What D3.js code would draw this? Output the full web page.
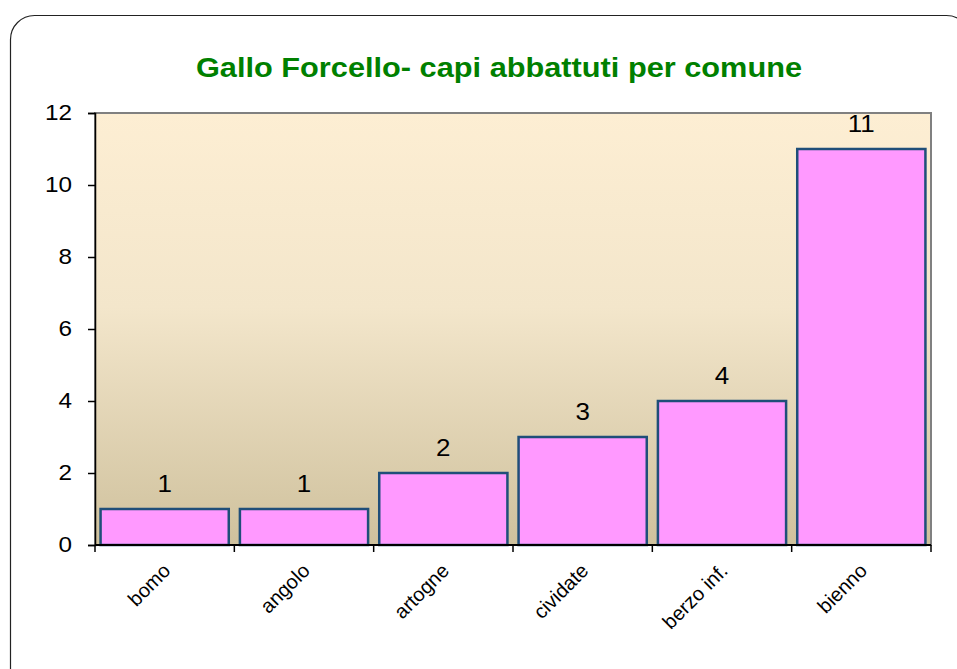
<!DOCTYPE html>
<html>
<head>
<meta charset="utf-8">
<script src="https://cdn.jsdelivr.net/npm/d3@7"></script>
<style>
  body { margin: 0; background: #fff; }
  svg text { font-family: "Liberation Sans", Arial, sans-serif; }
</style>
</head>
<body>
<div id="chart"></div>
<script>
const comuni = ["bomo", "angolo", "artogne", "cividate", "berzo inf.", "bienno"];
const capi = [1, 1, 2, 3, 4, 11];
const yTicks = [0, 2, 4, 6, 8, 10, 12];
const title = "Gallo Forcello- capi abbattuti per comune";

const W = 957, H = 669;
const margin = {top: 113, right: 26, bottom: 124, left: 95};
const width = W - margin.left - margin.right;
const height = H - margin.top - margin.bottom;
const stretch = 1.13; // the original text is a bit wide

const svg = d3.select("#chart").append("svg")
    .attr("width", W)
    .attr("height", H);

// outer frame with rounded corners
svg.append("rect")
    .attr("x", 10.5).attr("y", 15.5)
    .attr("width", 960).attr("height", 700)
    .attr("rx", 24).attr("ry", 24)
    .attr("fill", "none")
    .attr("stroke", "#222")
    .attr("stroke-width", 1.2);

// background gradient
const grad = svg.append("defs").append("linearGradient")
    .attr("id", "bg").attr("x1", 0).attr("y1", 0).attr("x2", 0).attr("y2", 1);
grad.append("stop").attr("offset", "0%").attr("stop-color", "#fdeed3");
grad.append("stop").attr("offset", "45%").attr("stop-color", "#f3e6cb");
grad.append("stop").attr("offset", "100%").attr("stop-color", "#cfc19d");

svg.append("text")
    .attr("transform", `translate(499,77) scale(${stretch},1)`)
    .attr("text-anchor", "middle")
    .attr("font-size", 27.2)
    .attr("font-weight", "bold")
    .attr("fill", "#008000")
    .text(title);

const g = svg.append("g")
    .attr("transform", `translate(${margin.left},${margin.top})`);

const x = d3.scaleBand()
    .domain(comuni)
    .range([0, width])
    .paddingInner(0.08)
    .paddingOuter(0.04);

const y = d3.scaleLinear()
    .domain([0, 12])
    .range([height, 0]);

g.append("rect")
    .attr("width", width).attr("height", height)
    .attr("fill", "url(#bg)")
    .attr("stroke", "#808080")
    .attr("stroke-width", 2);

// bars
g.selectAll(".bar")
    .data(capi)
    .enter()
    .append("rect")
    .attr("class", "bar")
    .attr("x", (d, i) => x(comuni[i]))
    .attr("y", d => y(d))
    .attr("width", x.bandwidth())
    .attr("height", d => height - y(d))
    .attr("fill", "#ff99ff")
    .attr("stroke", "#1f4e79")
    .attr("stroke-width", 2.5);

// value labels
g.selectAll(".val")
    .data(capi)
    .enter()
    .append("text")
    .attr("class", "val")
    .attr("transform", (d, i) => `translate(${x(comuni[i]) + x.bandwidth() / 2},${y(d) - 17}) scale(${stretch},1)`)
    .attr("text-anchor", "middle")
    .attr("font-size", 23)
    .attr("fill", "#000")
    .text(d => d);

// y axis
const yAxis = g.append("g")
    .call(d3.axisLeft(y).tickValues(yTicks).tickSize(7).tickPadding(15));
yAxis.select(".domain").attr("stroke", "#000").attr("stroke-width", 1.5);
yAxis.selectAll(".tick line").attr("stroke", "#000").attr("stroke-width", 1.5);
yAxis.selectAll(".tick text")
    .attr("x", null)
    .attr("font-size", 21.5)
    .attr("fill", "#000")
    .attr("font-family", "Liberation Sans, Arial, sans-serif")
    .attr("transform", `translate(-23,0) scale(${stretch},1)`);

// x axis: ticks at category boundaries
const step = width / comuni.length;
const xAxis = g.append("g")
    .attr("transform", `translate(0,${height})`);
xAxis.append("line")
    .attr("x1", 0).attr("x2", width)
    .attr("stroke", "#000").attr("stroke-width", 2);
xAxis.selectAll(".bt")
    .data(d3.range(comuni.length + 1))
    .enter()
    .append("line")
    .attr("x1", d => d * step).attr("x2", d => d * step)
    .attr("y1", 0).attr("y2", 7)
    .attr("stroke", "#000").attr("stroke-width", 1.5);

xAxis.selectAll(".lbl")
    .data(comuni)
    .enter()
    .append("text")
    .attr("class", "lbl")
    .attr("text-anchor", "end")
    .attr("font-size", 20)
    .attr("fill", "#000")
    .attr("transform", d => `translate(${x(d) + x.bandwidth() / 2 + 7},${27}) rotate(-45)`)
    .text(d => d);
</script>
</body>
</html>
